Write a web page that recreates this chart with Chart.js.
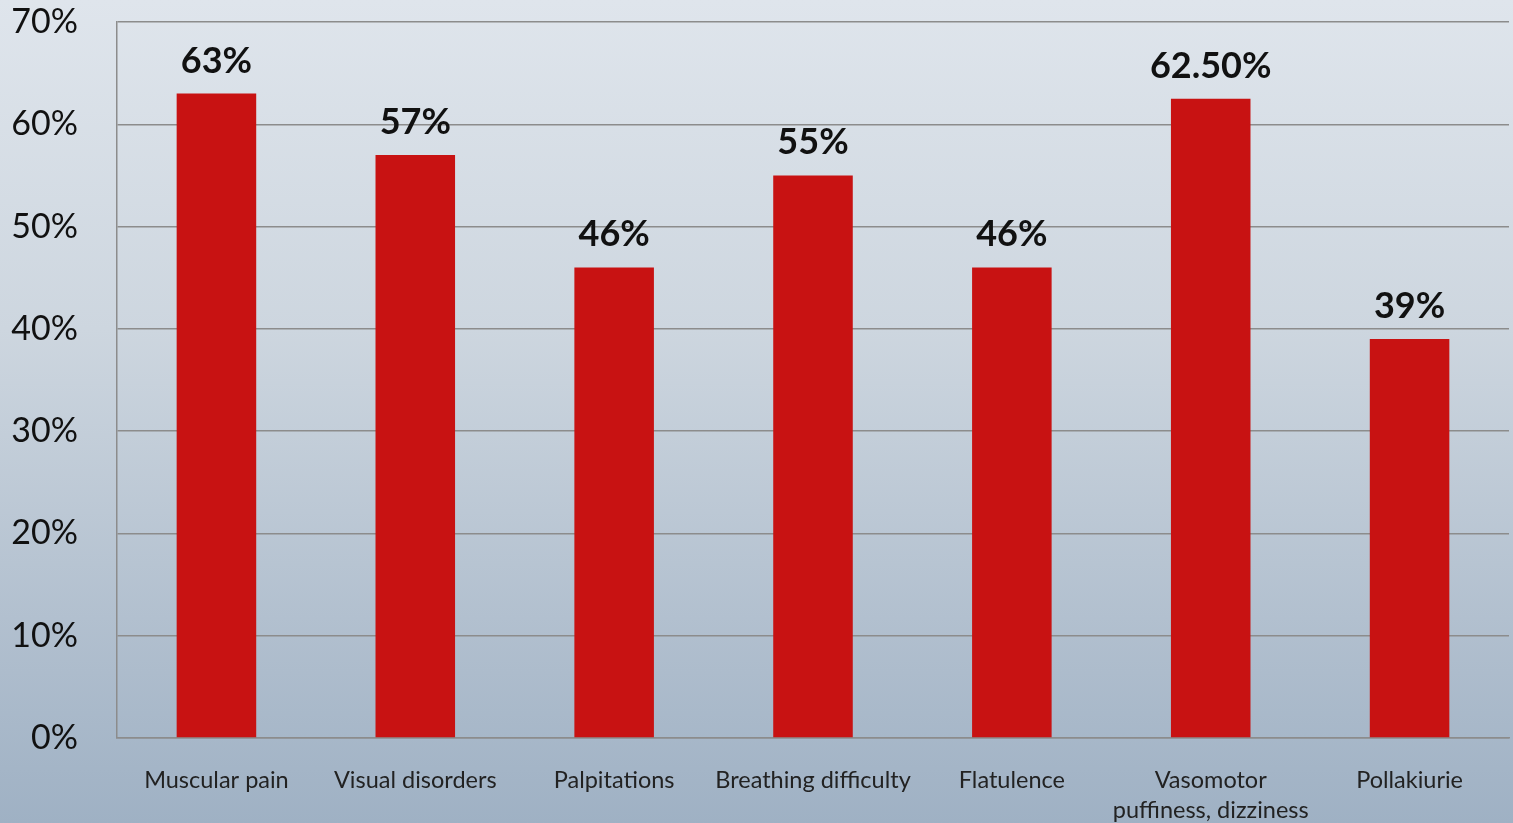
<!DOCTYPE html>
<html>
<head>
    <title>Symptoms</title>
    <script src="https://cdn.jsdelivr.net/npm/chart.js"></script>
    <style>
        html, body {
            margin: 0;
            padding: 0;
            width: 1513px;
            height: 823px;
            overflow: hidden;
            background: linear-gradient(to bottom, #dfe5ec 0%, #cdd6df 40%, #b2c0cf 75%, #9fb1c4 100%);
        }
        #wrap { position: relative; width: 1513px; height: 823px; }
    </style>
</head>
<body>
<div id="wrap"><canvas id="chart"></canvas></div>
<script>
    // data
    const categories = ['Muscular pain', 'Visual disorders', 'Palpitations', 'Breathing difficulty',
        'Flatulence', ['Vasomotor', 'puffiness, dizziness'], 'Pollakiurie'];
    const values = [63, 57, 46, 55, 46, 62.5, 39];
    const valueLabels = ['63%', '57%', '46%', '55%', '46%', '62.50%', '39%'];
    const yTicks = [0, 10, 20, 30, 40, 50, 60, 70];

    const FONT = 'Lato, "Open Sans", sans-serif';

    // draws the bold percentage above each bar
    const valueLabelPlugin = {
        id: 'valueLabels',
        afterDatasetsDraw(chart) {
            const c = chart.ctx;
            const meta = chart.getDatasetMeta(0);
            c.save();
            c.font = 'bold 36px ' + FONT;
            c.fillStyle = '#111';
            c.textAlign = 'center';
            c.textBaseline = 'alphabetic';
            meta.data.forEach((bar, i) => {
                c.fillText(valueLabels[i], bar.x, bar.y - 21);
            });
            c.restore();
        }
    };

    new Chart(document.getElementById('chart'), {
        type: 'bar',
        data: {
            labels: categories,
            datasets: [{
                data: values,
                backgroundColor: '#c81212',
                categoryPercentage: 1,
                barPercentage: 0.4
            }]
        },
        options: {
            responsive: true,
            maintainAspectRatio: false,
            animation: false,
            layout: { padding: { top: 22, right: 4, left: 0, bottom: 0 } },
            plugins: {
                legend: { display: false },
                tooltip: { enabled: false }
            },
            scales: {
                x: {
                    afterFit: s => { s.height = 85; s.paddingLeft = 0; s.paddingRight = 0; },
                    grid: { display: false, drawTicks: false },
                    border: { color: '#8c8c8c', width: 1.5 },
                    ticks: {
                        color: '#222',
                        font: { family: FONT, size: 23.5, lineHeight: 1.28 },
                        padding: 27,
                        maxRotation: 0,
                        autoSkip: false
                    }
                },
                y: {
                    min: 0,
                    max: 70,
                    afterFit: s => { s.width = 117; s.paddingTop = 0; s.paddingBottom = 0; },
                    afterBuildTicks: s => { s.ticks = yTicks.map(v => ({ value: v })); },
                    grid: { color: '#8c8c8c', lineWidth: 1.5, drawTicks: false },
                    border: { color: '#8c8c8c', width: 1.5 },
                    ticks: {
                        color: '#111',
                        font: { family: FONT, size: 34 },
                        padding: 39,
                        callback: v => v + '%'
                    }
                }
            }
        },
        plugins: [valueLabelPlugin]
    });
</script>
</body>
</html>
